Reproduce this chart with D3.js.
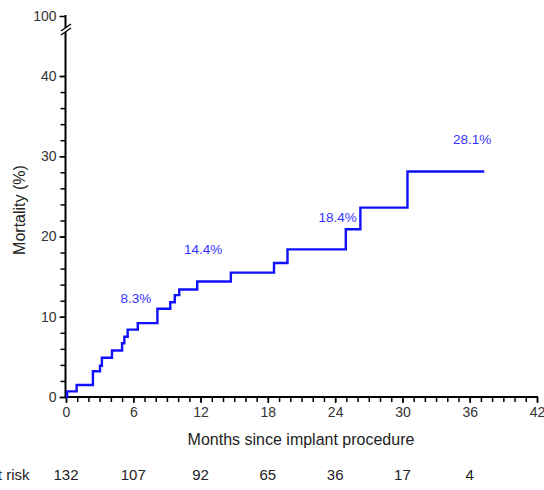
<!DOCTYPE html>
<html lang="en">
	<head>
		<meta charset="utf-8">
		<title>Mortality curve</title>
		<script src="https://d3js.org/d3.v7.min.js"></script>
		<style>
			body { margin: 0; background: #fff; }
			text { font-family: "Liberation Sans", Arial, sans-serif; }
		</style>
	</head>
	<body>
		<script type="text/javascript">

			// step curve: event times (months) and cumulative mortality (%)
			var months = [0, 0.1, 0.95, 2.4, 3.03, 3.2, 4.1, 5.0, 5.2, 5.5, 6.4, 8.15, 9.3, 9.7, 10.1, 11.7, 14.7, 18.55, 19.75, 24.95, 26.25, 30.45, 37.3];
			var mortality = [0, 0.7, 1.5, 3.2, 3.9, 4.9, 5.8, 6.7, 7.5, 8.4, 9.2, 11.0, 11.8, 12.7, 13.4, 14.4, 15.5, 16.7, 18.4, 20.9, 23.6, 28.1, 28.1];

			// labelled estimates
			var labelMonths = [6, 12, 24, 36];
			var labelValues = [8.3, 14.4, 18.4, 28.1];
			var labelTexts = ["8.3%", "14.4%", "18.4%", "28.1%"];

			// number at risk
			var riskMonths = [0, 6, 12, 18, 24, 30, 36];
			var riskCounts = [132, 107, 92, 65, 36, 17, 4];

			// tick values
			var xMajor = [0, 6, 12, 18, 24, 30, 36, 42];
			var yMajor = [0, 10, 20, 30, 40, 100];

			var w = 544;
			var h = 490;

			var xScale = d3.scaleLinear()
				.domain([0, 42])
				.range([66, 537]);

			// broken y axis: 0-40 linear, then jump to 100
			var yScale = d3.scaleLinear()
				.domain([0, 40, 100])
				.range([397, 76, 16]);

			var svg = d3.select("body").append("svg").attr("width", w).attr("height", h);

			// minor ticks
			var xMinor = d3.range(0, 43, 1);
			var yMinor = d3.range(0, 41, 2);

			svg.append("g")
				.attr("transform", "translate(0," + 397 + ")")
				.call(d3.axisBottom(xScale).tickValues(xMinor).tickSize(5).tickFormat(""))
				.call(function(g) { g.select(".domain").remove(); g.selectAll("line").attr("stroke-width", 1.5); });

			svg.append("g")
				.attr("transform", "translate(" + 65.5 + ",0)")
				.call(d3.axisLeft(yScale).tickValues(yMinor).tickSize(5).tickFormat(""))
				.call(function(g) { g.select(".domain").remove(); g.selectAll("line").attr("stroke-width", 1.5); });

			// major ticks and labels
			var xAxis = svg.append("g")
				.attr("transform", "translate(0," + 397 + ")")
				.call(d3.axisBottom(xScale).tickValues(xMajor).tickSize(6).tickPadding(4));
			xAxis.select(".domain").remove();
			xAxis.selectAll("line").attr("stroke-width", 1.5);
			xAxis.selectAll("text").attr("font-size", 14).attr("fill", "#333")
				.attr("font-family", "Liberation Sans, Arial, sans-serif");

			var yAxis = svg.append("g")
				.attr("transform", "translate(" + 65.5 + ",0)")
				.call(d3.axisLeft(yScale).tickValues(yMajor).tickSize(6).tickPadding(3));
			yAxis.select(".domain").remove();
			yAxis.selectAll("line").attr("stroke-width", 1.5);
			yAxis.selectAll("text").attr("font-size", 14).attr("fill", "#333")
				.attr("font-family", "Liberation Sans, Arial, sans-serif");

			// axis lines
			svg.append("line")
				.attr("x1", xScale(0) - 1).attr("x2", xScale(42) + 1)
				.attr("y1", yScale(0)).attr("y2", yScale(0))
				.attr("stroke", "#000").attr("stroke-width", 2);
			svg.append("line")
				.attr("x1", 65.5).attr("x2", 65.5)
				.attr("y1", yScale(0) + 1).attr("y2", yScale(100) - 1)
				.attr("stroke", "#000").attr("stroke-width", 2);

			// axis break marks
			var by = 29;
			svg.append("polygon")
				.attr("points", [[61, by + 2], [71, by - 5], [71, by - 1], [61, by + 6]].join(" "))
				.attr("fill", "#fff");
			svg.append("line")
				.attr("x1", 61).attr("y1", by + 2).attr("x2", 71).attr("y2", by - 5)
				.attr("stroke", "#000").attr("stroke-width", 1.3);
			svg.append("line")
				.attr("x1", 61).attr("y1", by + 6).attr("x2", 71).attr("y2", by - 1)
				.attr("stroke", "#000").attr("stroke-width", 1.3);

			// curve
			var curveData = months.map(function(m, i) { return {x: m, y: mortality[i]}; });
			var line = d3.line()
				.x(function(d) { return xScale(d.x); })
				.y(function(d) { return yScale(d.y); })
				.curve(d3.curveStepAfter);

			svg.append("path")
				.datum(curveData)
				.attr("d", line)
				.attr("fill", "none")
				.attr("stroke", "#1010ff")
				.attr("stroke-width", 2.4);

			// estimate labels
			svg.selectAll(".est")
				.data(labelMonths)
				.enter()
				.append("text")
				.attr("class", "est")
				.attr("x", function(d) { return xScale(d) + 2.5; })
				.attr("y", function(d, i) { return yScale(labelValues[i]) - 27; })
				.attr("text-anchor", "middle")
				.attr("font-size", 13.5)
				.attr("fill", "#3333ff")
				.text(function(d, i) { return labelTexts[i]; });

			// axis titles
			svg.append("text")
				.attr("x", 301).attr("y", 445)
				.attr("text-anchor", "middle")
				.attr("font-size", 16).attr("fill", "#222")
				.text("Months since implant procedure");

			svg.append("text")
				.attr("transform", "translate(25,210) rotate(-90)")
				.attr("text-anchor", "middle")
				.attr("font-size", 16).attr("fill", "#222")
				.text("Mortality (%)");

			// number at risk
			svg.append("text")
				.attr("x", 29.5).attr("y", 480)
				.attr("text-anchor", "end")
				.attr("font-size", 15).attr("fill", "#222")
				.text("Number at risk");

			svg.selectAll(".risk")
				.data(riskMonths)
				.enter()
				.append("text")
				.attr("class", "risk")
				.attr("x", function(d) { return xScale(d); })
				.attr("y", 480)
				.attr("text-anchor", "middle")
				.attr("font-size", 15).attr("fill", "#222")
				.text(function(d, i) { return riskCounts[i]; });

		</script>
	</body>
</html>
